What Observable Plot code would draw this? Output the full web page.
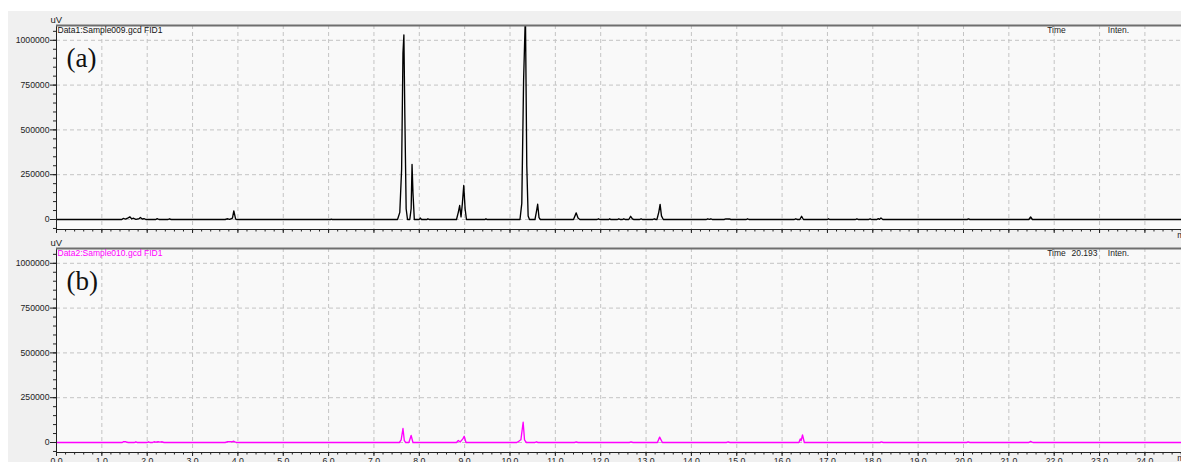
<!DOCTYPE html>
<html>
<head>
<meta charset="utf-8">
<script src="https://cdn.jsdelivr.net/npm/d3@7"></script>
<script src="https://cdn.jsdelivr.net/npm/@observablehq/plot@0.6"></script>
<style>
  html, body { margin: 0; padding: 0; background: #ffffff; overflow: hidden; }
  #wrap { position: absolute; left: 8px; top: 11px; width: 1173px; height: 451px; background: #f0f0f0; overflow: hidden; }
  #pa { position: absolute; left: 0; top: 0; }
  #pb { position: absolute; left: 0; top: 228px; }
</style>
</head>
<body>
<div id="wrap"><div id="pa"></div><div id="pb"></div></div>
<script>
// ---- data (time in min, signal in uV) ----
const traceA = [
  [0,0],[1.44,0],[1.47,6000],[1.52,2000],[1.58,9000],[1.62,15000],[1.66,3000],[1.70,7000],[1.75,1000],
  [1.82,4000],[1.85,11000],[1.89,3000],[1.93,5000],[1.97,0],[2.19,0],[2.22,5000],[2.26,0],
  [2.46,0],[2.49,4000],[2.53,0],[3.72,0],[3.76,4000],[3.82,1000],[3.88,8000],[3.91,48000],[3.95,2000],[3.98,0],
  [6.04,0],[6.06,2000],[6.08,0],
  [7.52,0],[7.57,40000],[7.61,280000],[7.64,930000],[7.66,1030000],[7.68,600000],[7.71,60000],[7.74,0],
  [7.79,0],[7.82,60000],[7.84,307000],[7.86,150000],[7.89,0],
  [8.00,0],[8.02,8000],[8.05,0],[8.17,0],[8.19,4000],[8.22,0],
  [8.82,0],[8.86,40000],[8.89,78000],[8.92,15000],[8.95,90000],[8.98,190000],[9.01,60000],[9.04,0],
  [9.45,0],[9.47,4000],[9.49,0],
  [10.22,0],[10.26,90000],[10.30,780000],[10.34,1150000],[10.37,300000],[10.40,20000],[10.43,0],
  [10.55,0],[10.58,40000],[10.61,85000],[10.64,10000],[10.67,0],
  [11.40,0],[11.46,37000],[11.50,8000],[11.54,0],
  [11.92,0],[11.95,4000],[11.98,0],[12.18,0],[12.20,4000],[12.22,0],[12.37,0],[12.40,4000],[12.43,0],
  [12.48,0],[12.51,4000],[12.54,0],[12.62,0],[12.66,18000],[12.70,3000],[12.73,0],[12.86,0],[12.89,4000],[12.92,0],
  [13.15,0],[13.18,4000],[13.22,0],[13.24,0],[13.28,40000],[13.31,84000],[13.34,20000],[13.38,0],
  [14.33,0],[14.36,4000],[14.40,1000],[14.43,4000],[14.46,0],[14.72,0],[14.76,3000],[14.84,3000],[14.87,0],
  [15.21,0],[15.24,4000],[15.27,0],
  [16.27,0],[16.30,4000],[16.34,0],[16.39,0],[16.43,18000],[16.47,0],
  [17.00,0],[17.02,4000],[17.05,0],[17.62,0],[17.65,4000],[17.68,0],[17.91,0],[17.94,4000],[17.97,0],
  [18.09,0],[18.12,5000],[18.15,1000],[18.18,8000],[18.22,0],
  [20.08,0],[20.11,3000],[20.14,0],
  [21.44,0],[21.48,14000],[21.52,0],[24.81,0]
];
const traceB = [
  [0,0],[1.45,0],[1.48,5000],[1.53,4000],[1.58,0],[1.72,0],[1.75,4000],[1.78,0],[2.00,0],[2.03,4000],[2.06,0],
  [2.12,0],[2.15,4000],[2.19,2000],[2.24,4000],[2.28,2000],[2.33,4000],[2.37,0],
  [3.72,0],[3.76,4000],[3.86,4000],[3.91,7000],[3.96,0],
  [7.56,0],[7.60,15000],[7.64,78000],[7.67,10000],[7.70,0],[7.77,0],[7.82,39000],[7.86,0],
  [8.82,0],[8.86,11000],[8.90,3000],[8.96,20000],[8.99,35000],[9.03,0],
  [10.15,0],[10.20,8000],[10.24,15000],[10.29,113000],[10.32,15000],[10.36,0],
  [10.55,0],[10.58,4000],[10.62,0],
  [11.42,0],[11.46,3000],[11.50,0],
  [12.63,0],[12.67,3000],[12.71,0],
  [13.25,0],[13.30,30000],[13.36,0],
  [14.77,0],[14.81,3000],[14.85,0],
  [16.37,0],[16.40,20000],[16.42,10000],[16.45,42000],[16.49,0],
  [18.16,0],[18.19,3000],[18.23,0],
  [20.07,0],[20.10,3000],[20.14,0],
  [21.44,0],[21.48,6000],[21.53,0],
  [24.81,0]
];
const yTicks = [0, 250000, 500000, 750000, 1000000];
const yMinorTicks = d3.range(-50000, 1050001, 50000);
const xTicks = d3.range(0, 25, 1);
const xMinorTicks = d3.range(0, 24.81, 0.2);
const titles = ["Data1:Sample009.gcd FID1", "Data2:Sample010.gcd FID1"];
const panelLabels = ["(a)", "(b)"];
const timeReadout = ["", "20.193"];

const xDomain = [0, 24.807];
const yDomain = [-55800, 1082600];

function panel(trace, opts) {
  const data = trace.map(([t, v]) => ({time: t, uV: v}));
  const font = "Liberation Sans, Arial, sans-serif";
  const noText = () => "";
  return Plot.plot({
    width: 1173,
    height: opts.height,
    marginLeft: 48,
    marginRight: 0,
    marginTop: opts.marginTop,
    marginBottom: opts.marginBottom,
    x: {domain: xDomain},
    y: {domain: yDomain},
    style: {background: "transparent", fontFamily: font, fontSize: "8.7px", color: "#222"},
    marks: [
      Plot.frame({fill: "#f9f9f9", stroke: null}),
      Plot.gridX(xTicks, {stroke: "#c4c4c4", strokeOpacity: 1, strokeDasharray: "4,3"}),
      Plot.gridY(yTicks, {stroke: "#c4c4c4", strokeOpacity: 1, strokeDasharray: "4,3"}),
      Plot.line(data, {x: "time", y: "uV", stroke: opts.color, strokeWidth: 1.35, clip: true}),
      Plot.ruleX([xDomain[0]], {stroke: "#222", strokeWidth: 1}),
      Plot.ruleY([yDomain[0]], {stroke: "#222", strokeWidth: 1}),
      Plot.ruleY([yDomain[1]], {stroke: "#6e6e6e", strokeWidth: 2}),
      Plot.axisY(yTicks, {tickSize: 6, tickPadding: 1, tickFormat: d => String(d), label: null, color: "#222"}),
      Plot.axisY(yMinorTicks, {tickSize: 3, tickFormat: noText, label: null, color: "#222"}),
      Plot.axisX(xTicks, {tickSize: 4, tickPadding: 1, tickFormat: opts.xLabels ? (d => d.toFixed(1)) : noText, label: null, color: "#222"}),
      Plot.axisX(xMinorTicks, {tickSize: 2.5, tickFormat: noText, label: null, color: "#222"}),
      Plot.text(["uV"], {text: d => d, frameAnchor: "top-left", textAnchor: "start", lineAnchor: "middle", dx: -6, dy: -5.5, fontSize: 9.5, fill: "#222"}),
      Plot.text([opts.title], {text: d => d, frameAnchor: "top-left", textAnchor: "start", lineAnchor: "middle", dx: 1, dy: 4.5, fontSize: 8.5, fill: opts.titleColor}),
      Plot.text([opts.label], {text: d => d, frameAnchor: "top-left", textAnchor: "start", lineAnchor: "middle", dx: 10, dy: 32.5, fontSize: 27, fontFamily: "Liberation Serif, serif", fill: "#111"}),
      Plot.text(["Time"], {text: d => d, frameAnchor: "top-right", textAnchor: "start", lineAnchor: "middle", dx: -134.3, dy: 4.5, fontSize: 8.5, fill: "#222"}),
      Plot.text([opts.readout], {text: d => d, frameAnchor: "top-right", textAnchor: "start", lineAnchor: "middle", dx: -110, dy: 4.5, fontSize: 8.5, fill: "#222"}),
      Plot.text(["Inten."], {text: d => d, frameAnchor: "top-right", textAnchor: "start", lineAnchor: "middle", dx: -73.7, dy: 4.5, fontSize: 8.5, fill: "#222"}),
      Plot.text(["min"], {text: d => d, frameAnchor: "bottom-right", textAnchor: "start", lineAnchor: "middle", dx: -4.3, dy: 6, fontSize: 8.5, fill: "#222"})
    ]
  });
}

document.getElementById("pa").appendChild(panel(traceA, {
  height: 228, marginTop: 14, marginBottom: 10, color: "#000000", xLabels: false,
  title: titles[0], titleColor: "#111", label: panelLabels[0], readout: timeReadout[0]
}));
document.getElementById("pb").appendChild(panel(traceB, {
  height: 233, marginTop: 9, marginBottom: 20, color: "#ff00ff", xLabels: true,
  title: titles[1], titleColor: "#ff00ff", label: panelLabels[1], readout: timeReadout[1]
}));
</script>
</body>
</html>
